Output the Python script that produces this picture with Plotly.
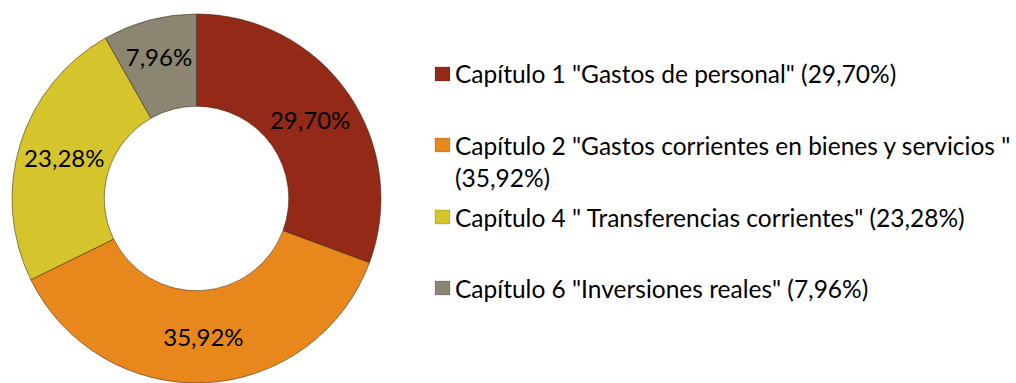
import plotly.graph_objects as go

# Budget chapters and their share of spending
labels = [
    'Capítulo 1 "Gastos de personal"',
    'Capítulo 2 "Gastos corrientes en bienes y servicios "',
    'Capítulo 4 " Transferencias corrientes"',
    'Capítulo 6 "Inversiones reales"',
]
values = [29.70, 35.92, 23.28, 7.96]
value_text = ["29,70%", "35,92%", "23,28%", "7,96%"]
colors = ["#942917", "#E8881C", "#D6C42C", "#8C8572"]

W, H = 1016, 383
FONT = "Lato"

fig = go.Figure()
fig.add_trace(go.Pie(
    labels=labels,
    values=values,
    text=value_text,
    textinfo="text",
    textposition="inside",
    insidetextorientation="horizontal",
    textfont=dict(family=FONT, size=24, color="#000000"),
    hole=0.5,
    sort=False,
    direction="clockwise",
    rotation=0,
    marker=dict(colors=colors, line=dict(color="rgba(60,40,20,0.55)", width=1)),
    domain=dict(x=[10 / W, 383 / W], y=[0, 1 - 14 / H]),
    showlegend=False,
    hoverinfo="label+text",
))

# Legend drawn as swatches plus wrapped labels
legend_rows = [
    (labels[0] + " (" + value_text[0] + ")", 74),
    (labels[1] + "<br>(" + value_text[1] + ")", 161),
    (labels[2] + " (" + value_text[2] + ")", 217),
    (labels[3] + " (" + value_text[3] + ")", 288),
]
swatch_y = [74, 145, 217, 288]
shapes = []
annotations = []
for (txt, yc), sy, col in zip(legend_rows, swatch_y, colors):
    shapes.append(dict(
        type="rect", xref="paper", yref="paper",
        x0=435 / W, x1=450 / W, y0=1 - (sy + 7) / H, y1=1 - (sy - 7) / H,
        fillcolor=col, line=dict(color="rgba(0,0,0,0.3)", width=0.5),
    ))
    annotations.append(dict(
        text=txt, xref="paper", yref="paper",
        x=453 / W, y=1 - yc / H, xanchor="left", yanchor="middle",
        align="left", showarrow=False,
        font=dict(family=FONT, size=24.5, color="#000000"),
    ))

fig.update_layout(
    width=W, height=H,
    margin=dict(l=0, r=0, t=0, b=0),
    paper_bgcolor="#FFFFFF",
    plot_bgcolor="#FFFFFF",
    shapes=shapes,
    annotations=annotations,
)

fig.write_html("out.html")
